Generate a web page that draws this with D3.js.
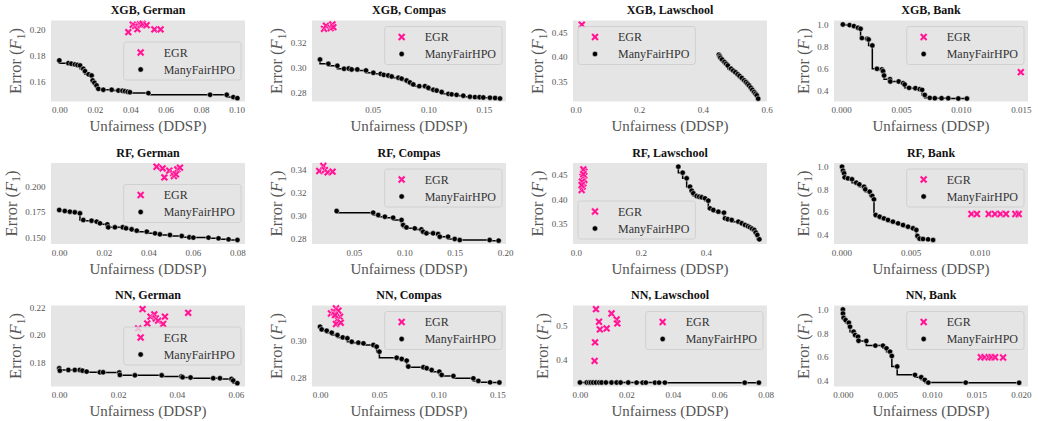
<!DOCTYPE html>
<html>
<head>
<meta charset="utf-8">
<script src="https://cdn.jsdelivr.net/npm/d3@7"></script>
<style>
  body { margin: 0; background: #fff; }
  svg text { font-family: "Liberation Serif", "Times New Roman", serif; }
</style>
</head>
<body>
<svg id="chart" width="1038" height="421"></svg>
<script>
// ---- values: [unfairness (DDSP), error (F1)] ----
const xgbGermanEgr = [[0.0389,0.1982],[0.0414,0.2039],[0.0428,0.2030],[0.044,0.2005],[0.0455,0.2041],[0.0462,0.2038],
    [0.047,0.2046],[0.0492,0.2036],[0.0536,0.2003],[0.0571,0.2003]];
const xgbGermanHpo = [[0,0.1763],[0.0051,0.1742],[0.0068,0.1738],[0.0088,0.1732],[0.0102,0.1728],[0.0117,0.1724],
    [0.0135,0.1698],[0.0145,0.168],[0.0165,0.1655],[0.0182,0.1646],[0.0188,0.1608],[0.0198,0.159],[0.021,0.1569],
    [0.022,0.1543],[0.0248,0.1536],[0.0295,0.1536],[0.0333,0.153],[0.0356,0.1528],[0.037,0.1525],[0.0385,0.152],
    [0.0398,0.1517],[0.0502,0.151],[0.085,0.1497],[0.0944,0.1497],[0.0981,0.1479],[0.1004,0.1471]];

const xgbCompasEgr = [[0.0063,0.3306],[0.0081,0.333],[0.0123,0.3311],[0.0138,0.334],[0.0147,0.3319]];
const xgbCompasHpo = [[0.0027,0.3062],[0.0102,0.3028],[0.0183,0.3012],[0.0243,0.2988],[0.0285,0.299],[0.0311,0.2983],
    [0.0362,0.2983],[0.044,0.2975],[0.0506,0.2956],[0.0572,0.2948],[0.06,0.294],[0.064,0.2935],[0.0671,0.2927],
    [0.0731,0.2917],[0.076,0.291],[0.0805,0.2895],[0.0835,0.288],[0.0865,0.2864],[0.0919,0.285],[0.097,0.285],
    [0.1,0.2837],[0.1045,0.2821],[0.1075,0.2815],[0.112,0.2803],[0.118,0.2789],[0.121,0.2785],[0.1254,0.2781],
    [0.1314,0.2774],[0.1374,0.2766],[0.1419,0.2763],[0.146,0.2762],[0.1494,0.276],[0.1554,0.2758],[0.16,0.2756],
    [0.1644,0.2752]];

const xgbLawEgr = [[0.0197,0.4664]];
const xgbLawHpo = [[0.45,0.4048],[0.453,0.4015],[0.455,0.3986],[0.46,0.395],[0.4676,0.3897],[0.473,0.386],
    [0.478,0.3825],[0.4883,0.376],[0.495,0.372],[0.502,0.3685],[0.509,0.3644],[0.515,0.361],[0.522,0.357],
    [0.5296,0.352],[0.535,0.3485],[0.54,0.3452],[0.545,0.3415],[0.5503,0.337],[0.555,0.3325],[0.5607,0.3281],
    [0.565,0.3245],[0.569,0.3212],[0.5735,0.3144]];

const xgbBankEgr = [[0.015,0.5667]];
const xgbBankHpo = [[0.00014,1.0],[0.0007,0.994],[0.00106,0.985],[0.0014,0.97],[0.00162,0.9606],[0.00173,0.876],
    [0.00218,0.87],[0.00229,0.864],[0.0026,0.809],[0.00299,0.597],[0.0034,0.591],[0.0035,0.576],[0.00358,0.536],
    [0.00408,0.503],[0.0041,0.482],[0.0048,0.482],[0.00517,0.467],[0.0053,0.4545],[0.00567,0.424],[0.0062,0.421],
    [0.00656,0.412],[0.00676,0.406],[0.00698,0.36],[0.0074,0.333],[0.00782,0.33],[0.00838,0.33],[0.00894,0.33],
    [0.00978,0.327],[0.0105,0.327]];

const rfGermanEgr = [[0.0437,0.2197],[0.0464,0.2181],[0.0472,0.2092],[0.0494,0.2158],[0.0512,0.2132],[0.0515,0.2105],
    [0.053,0.2171],[0.0542,0.2188],[0.0524,0.2122]];
const rfGermanHpo = [[0,0.177],[0.0025,0.176],[0.0048,0.1753],[0.007,0.1747],[0.0093,0.1737],[0.0108,0.1671],
    [0.0145,0.1664],[0.0168,0.1655],[0.0183,0.1638],[0.0216,0.1628],[0.022,0.1599],[0.025,0.1599],[0.0285,0.1599],
    [0.03,0.1589],[0.0325,0.1579],[0.0348,0.1566],[0.0393,0.1556],[0.043,0.1539],[0.0452,0.153],[0.0497,0.1523],
    [0.055,0.1513],[0.0584,0.15],[0.0602,0.1497],[0.067,0.1497],[0.0715,0.149],[0.076,0.148],[0.08,0.1474]];

const rfCompasEgr = [[0.0158,0.3386],[0.0198,0.3429],[0.0214,0.3394],[0.0241,0.3374],[0.029,0.338]];
const rfCompasHpo = [[0.033,0.3041],[0.0692,0.3027],[0.0742,0.3007],[0.0808,0.2992],[0.089,0.2984],[0.0973,0.2964],
    [0.0989,0.2921],[0.1022,0.29],[0.1104,0.2892],[0.117,0.2883],[0.1187,0.2863],[0.122,0.2849],[0.1286,0.2849],
    [0.1335,0.2843],[0.1352,0.282],[0.1434,0.282],[0.15,0.28],[0.155,0.2791],[0.1846,0.2791],[0.1935,0.2786]];

const rfLawEgr = [[0.0174,0.419],[0.0205,0.4259],[0.0226,0.4328],[0.0256,0.4397],[0.0205,0.4466],[0.0256,0.4569],
    [0.0226,0.4617],[0.0185,0.4362],[0.0174,0.4293],[0.0226,0.4517]];
const rfLawHpo = [[0.3149,0.4672],[0.3282,0.4548],[0.3405,0.4431],[0.3508,0.4259],[0.3559,0.4176],[0.361,0.4121],
    [0.3713,0.4066],[0.379,0.405],[0.3867,0.4038],[0.3969,0.4017],[0.4072,0.3969],[0.4123,0.381],[0.4226,0.3776],
    [0.438,0.3741],[0.4554,0.3721],[0.4585,0.3603],[0.467,0.3585],[0.479,0.3569],[0.4995,0.3534],[0.51,0.35],
    [0.52,0.3466],[0.529,0.344],[0.5354,0.3417],[0.542,0.339],[0.5487,0.3362],[0.553,0.331],[0.5579,0.3259],
    [0.5641,0.3169]];

const rfBankEgr = [[0.0094,0.58],[0.0098,0.58],[0.01065,0.58],[0.0111,0.58],[0.0115,0.58],[0.0119,0.58],
    [0.01258,0.58],[0.01282,0.58]];
const rfBankHpo = [[0.00005,1.0],[0.00012,0.9645],[0.0002,0.941],[0.00024,0.905],[0.00048,0.896],[0.00077,0.888],
    [0.00108,0.858],[0.0013,0.843],[0.00164,0.822],[0.00173,0.799],[0.00205,0.778],[0.00224,0.74],[0.00236,0.71],
    [0.00248,0.571],[0.00277,0.556],[0.00308,0.541],[0.00337,0.527],[0.00373,0.512],[0.0041,0.497],[0.00446,0.482],
    [0.00482,0.467],[0.00518,0.453],[0.00542,0.438],[0.0055,0.385],[0.00566,0.361],[0.0059,0.358],[0.00627,0.355],
    [0.00663,0.3497]];

const nnGermanEgr = [[0.0283,0.2188],[0.0268,0.2048],[0.0299,0.2084],[0.031,0.2133],[0.0323,0.215],
    [0.0328,0.212],[0.0336,0.2104],[0.0353,0.208],[0.0359,0.2133],[0.0438,0.2161]];
const nnGermanHpo = [[0,0.1759],[0.0002,0.1742],[0.0031,0.1747],[0.0053,0.1747],[0.007,0.1747],[0.0079,0.1742],
    [0.0093,0.1735],[0.0138,0.173],[0.0149,0.173],[0.0204,0.1728],[0.0206,0.1711],[0.0257,0.1708],[0.0348,0.1708],
    [0.0415,0.1699],[0.0419,0.1694],[0.0446,0.1692],[0.0523,0.1687],[0.0546,0.1687],[0.0585,0.1682],[0.0591,0.167],
    [0.0605,0.1651]];

const nnCompasEgr = [[0.0093,0.3152],[0.0118,0.3161],[0.0135,0.318],[0.0155,0.3167],[0.0169,0.3134],[0.0147,0.3119],
    [0.0135,0.3094],[0.0175,0.3101],[0.0127,0.3143]];
const nnCompasHpo = [[0,0.3079],[0.0014,0.3064],[0.0056,0.3057],[0.0099,0.3046],[0.0147,0.3033],[0.0192,0.302],
    [0.0231,0.3015],[0.0268,0.2996],[0.0324,0.2991],[0.0367,0.2987],[0.0451,0.2978],[0.0479,0.2969],[0.0502,0.2941],
    [0.0648,0.2908],[0.0691,0.2901],[0.0733,0.2892],[0.0747,0.2859],[0.0874,0.2855],[0.0902,0.285],[0.0944,0.284],
    [0.1009,0.2831],[0.1029,0.2813],[0.1128,0.2807],[0.1297,0.2794],[0.1339,0.278],[0.1438,0.2772],[0.1517,0.2771]];

const nnLawEgr = [[0.0069,0.551],[0.0082,0.513],[0.0086,0.49],[0.0115,0.493],[0.0136,0.538],[0.0158,0.52],
    [0.0161,0.508],[0.0065,0.451],[0.0063,0.395]];
const nnLawHpo = [[0,0.3302],[0.0029,0.3302],[0.0039,0.3301],[0.0047,0.3301],[0.0057,0.3301],[0.0069,0.33],
    [0.0083,0.33],[0.0093,0.33],[0.0112,0.33],[0.0136,0.33],[0.0158,0.3299],[0.0175,0.3299],[0.0208,0.3299],
    [0.0244,0.3298],[0.027,0.3298],[0.0284,0.3298],[0.0323,0.3297],[0.0341,0.3297],[0.0366,0.3297],[0.071,0.3296],
    [0.0771,0.3296]];

const nnBankEgr = [[0.0155,0.598],[0.0159,0.598],[0.0164,0.598],[0.0167,0.598],[0.0171,0.598],[0.018,0.596]];
const nnBankHpo = [[0,1.0],[0.00001,0.966],[0.00008,0.93],[0.0003,0.911],[0.00067,0.888],[0.0008,0.855],
    [0.0012,0.813],[0.00137,0.785],[0.0017,0.771],[0.00176,0.737],[0.00263,0.735],[0.00365,0.696],[0.0045,0.696],
    [0.0049,0.673],[0.0053,0.645],[0.0055,0.609],[0.0061,0.52],[0.0081,0.45],[0.0088,0.43],[0.0092,0.408],
    [0.0096,0.385],[0.0138,0.385],[0.0198,0.383]];

// axis limits and tick labels as they appear in each subplot
const panels = [
    {title: "XGB, German", egr: xgbGermanEgr, hpo: xgbGermanHpo, xDomain: [-0.0047, 0.1047], yDomain: [0.1445, 0.2072],
        xTicks: [0, 0.02, 0.04, 0.06, 0.08, 0.10], xFmt: ".2f", yTicks: [0.16, 0.18, 0.20], yFmt: ".2f", legend: "cr"},
    {title: "XGB, Compas", egr: xgbCompasEgr, hpo: xgbCompasHpo, xDomain: [-0.0045, 0.1698], yDomain: [0.2728, 0.3372],
        xTicks: [0.05, 0.10, 0.15], xFmt: ".2f", yTicks: [0.28, 0.30, 0.32], yFmt: ".2f", legend: "ur"},
    {title: "XGB, Lawschool", egr: xgbLawEgr, hpo: xgbLawHpo, xDomain: [-0.008, 0.6012], yDomain: [0.3085, 0.475],
        xTicks: [0, 0.2, 0.4, 0.6], xFmt: ".1f", yTicks: [0.35, 0.40, 0.45], yFmt: ".2f", legend: "ul"},
    {title: "XGB, Bank", egr: xgbBankEgr, hpo: xgbBankHpo, xDomain: [-0.0006, 0.0156], yDomain: [0.30, 1.036],
        xTicks: [0, 0.005, 0.010, 0.015], xFmt: ".3f", yTicks: [0.4, 0.6, 0.8, 1.0], yFmt: ".1f", legend: "ur"},
    {title: "RF, German", egr: rfGermanEgr, hpo: rfGermanHpo, xDomain: [-0.0037, 0.0834], yDomain: [0.1434, 0.2234],
        xTicks: [0, 0.02, 0.04, 0.06, 0.08], xFmt: ".2f", yTicks: [0.150, 0.175, 0.200], yFmt: ".3f", legend: "cr"},
    {title: "RF, Compas", egr: rfCompasEgr, hpo: rfCompasHpo, xDomain: [0.0086, 0.2008], yDomain: [0.2757, 0.3455],
        xTicks: [0.05, 0.10, 0.15, 0.20], xFmt: ".2f", yTicks: [0.28, 0.30, 0.32, 0.34], yFmt: ".2f", legend: "ur"},
    {title: "RF, Lawschool", egr: rfLawEgr, hpo: rfLawHpo, xDomain: [-0.0092, 0.5877], yDomain: [0.3072, 0.4748],
        xTicks: [0, 0.2, 0.4], xFmt: ".1f", yTicks: [0.35, 0.40, 0.45], yFmt: ".2f", legend: "ll"},
    {title: "RF, Bank", egr: rfBankEgr, hpo: rfBankHpo, xDomain: [-0.00053, 0.01349], yDomain: [0.3136, 1.0325],
        xTicks: [0, 0.005, 0.010], xFmt: ".3f", yTicks: [0.4, 0.6, 0.8, 1.0], yFmt: ".1f", legend: "ur"},
    {title: "NN, German", egr: nnGermanEgr, hpo: nnGermanHpo, xDomain: [-0.0028, 0.0631], yDomain: [0.1627, 0.2214],
        xTicks: [0, 0.02, 0.04, 0.06], xFmt: ".2f", yTicks: [0.18, 0.20, 0.22], yFmt: ".2f", legend: "cr"},
    {title: "NN, Compas", egr: nnCompasEgr, hpo: nnCompasHpo, xDomain: [-0.0068, 0.1573], yDomain: [0.2749, 0.3196],
        xTicks: [0, 0.05, 0.10, 0.15], xFmt: ".2f", yTicks: [0.28, 0.30], yFmt: ".2f", legend: "ur"},
    {title: "NN, Lawschool", egr: nnLawEgr, hpo: nnLawHpo, xDomain: [-0.003, 0.0806], yDomain: [0.318, 0.562],
        xTicks: [0, 0.02, 0.04, 0.06, 0.08], xFmt: ".2f", yTicks: [0.4, 0.5], yFmt: ".1f", legend: "ur"},
    {title: "NN, Bank", egr: nnBankEgr, hpo: nnBankHpo, xDomain: [-0.001, 0.0208], yDomain: [0.352, 1.0335],
        xTicks: [0, 0.005, 0.010, 0.015, 0.020], xFmt: ".3f", yTicks: [0.4, 0.6, 0.8, 1.0], yFmt: ".1f", legend: "ur"}
];

const egrColor = "#ff1493";
const bgColor = "#e5e5e5";
const labelColor = "#555555";

const plotW = 194, plotH = 81;
const colLeft = [51, 312, 573, 834];
const rowTop = [20.5, 163, 305.5];

const svg = d3.select("#chart");

// filled "X" marker like matplotlib's 'X'
function xMarkerPath(s, w) {
    const pts = [[-w,-s],[w,-s],[w,-w],[s,-w],[s,w],[w,w],[w,s],[-w,s],[-w,w],[-s,w],[-s,-w],[-w,-w]];
    const c = Math.SQRT1_2;
    return "M" + pts.map(([a, b]) => [(a - b) * c, (a + b) * c].map(v => v.toFixed(2)).join(",")).join("L") + "Z";
}
const xPath = xMarkerPath(4.3, 1.25);

function drawEgr(sel, px, py) {
    sel.append("path")
        .attr("d", xPath)
        .attr("transform", `translate(${px},${py})`)
        .attr("fill", egrColor)
        .attr("stroke", "#fff")
        .attr("stroke-width", 0.4);
}

function drawDot(sel, px, py) {
    sel.append("circle")
        .attr("cx", px).attr("cy", py).attr("r", 2.7)
        .attr("fill", "#000")
        .attr("stroke", "#fff")
        .attr("stroke-width", 0.5);
}

panels.forEach((p, i) => {
    const col = i % 4, row = Math.floor(i / 4);
    const x0 = colLeft[col], y0 = rowTop[row];

    const x = d3.scaleLinear().domain(p.xDomain).range([x0, x0 + plotW]);
    const y = d3.scaleLinear().domain(p.yDomain).range([y0 + plotH, y0]);

    const g = svg.append("g").attr("class", "panel");

    g.append("rect")
        .attr("x", x0).attr("y", y0)
        .attr("width", plotW).attr("height", plotH)
        .attr("fill", bgColor);

    // title
    g.append("text")
        .attr("x", x0 + plotW / 2).attr("y", y0 - 6.5)
        .attr("text-anchor", "middle")
        .attr("font-size", 12)
        .attr("font-weight", "bold")
        .attr("fill", "#111")
        .text(p.title);

    // x axis (no tick lines, just labels)
    const xAxisG = g.append("g")
        .attr("transform", `translate(0,${y0 + plotH})`)
        .call(d3.axisBottom(x).tickValues(p.xTicks).tickFormat(d3.format(p.xFmt)).tickSize(0).tickPadding(5.6));
    xAxisG.select(".domain").remove();
    xAxisG.attr("font-family", null).attr("font-size", 9).attr("color", labelColor);

    // y axis
    const yAxisG = g.append("g")
        .attr("transform", `translate(${x0},0)`)
        .call(d3.axisLeft(y).tickValues(p.yTicks).tickFormat(d3.format(p.yFmt)).tickSize(0).tickPadding(5.5));
    yAxisG.select(".domain").remove();
    yAxisG.attr("font-family", null).attr("font-size", 9).attr("color", labelColor);

    const tickW = d3.max(yAxisG.selectAll("text").nodes(), n => n.getBBox().width);

    // axis labels
    g.append("text")
        .attr("x", x0 + plotW / 2).attr("y", y0 + plotH + 29.5)
        .attr("text-anchor", "middle")
        .attr("font-size", 15)
        .attr("fill", labelColor)
        .text("Unfairness (DDSP)");

    const yl = g.append("text")
        .attr("transform", `translate(${x0 - 5.5 - tickW - 8},${y0 + plotH / 2}) rotate(-90)`)
        .attr("text-anchor", "middle")
        .attr("font-size", 16.5)
        .attr("fill", labelColor);
    yl.append("tspan").text("Error (");
    yl.append("tspan").attr("font-style", "italic").text("F");
    yl.append("tspan").attr("font-size", 11.5).attr("dy", 3.5).text("1");
    yl.append("tspan").attr("dy", -3.5).text(")");

    // step line through the ManyFairHPO front
    const front = p.hpo.slice().sort((a, b) => a[0] - b[0]);
    g.append("path")
        .datum(front)
        .attr("fill", "none")
        .attr("stroke", "#000")
        .attr("stroke-width", 1.5)
        .attr("d", d3.line().x(d => x(d[0])).y(d => y(d[1])).curve(d3.curveStepBefore));

    const marks = g.append("g");
    front.forEach(d => drawDot(marks, x(d[0]), y(d[1])));
    p.egr.forEach(d => drawEgr(marks, x(d[0]), y(d[1])));

    // legend
    const lg = g.append("g");
    const lh = 38;
    const tmp = lg.append("text").attr("font-size", 12).text("ManyFairHPO");
    const lw = 40 + tmp.node().getComputedTextLength() + 6;
    tmp.remove();
    let lx, ly;
    if (p.legend === "ul" || p.legend === "ll") lx = x0 + 5; else lx = x0 + plotW - 4 - lw;
    if (p.legend === "ur" || p.legend === "ul") ly = y0 + 6;
    else if (p.legend === "ll") ly = y0 + plotH - 5 - lh;
    else ly = y0 + plotH / 2 - lh / 2;

    lg.append("rect")
        .attr("x", lx).attr("y", ly)
        .attr("width", lw).attr("height", lh)
        .attr("rx", 2.5)
        .attr("fill", bgColor).attr("fill-opacity", 0.8)
        .attr("stroke", "#cccccc").attr("stroke-width", 0.8);

    drawEgr(lg, lx + 17, ly + 10.5);
    drawDot(lg, lx + 17, ly + 27.5);

    [["EGR", 10.5], ["ManyFairHPO", 27.5]].forEach(([label, dy]) => {
        lg.append("text")
            .attr("x", lx + 40).attr("y", ly + dy)
            .attr("dy", "0.35em")
            .attr("font-size", 12)
            .attr("fill", "#333")
            .text(label);
    });
});
</script>
</body>
</html>
